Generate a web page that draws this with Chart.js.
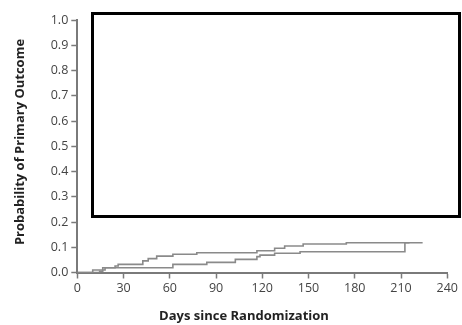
<!DOCTYPE html>
<html>
<head>
<meta charset="utf-8">
<script src="https://cdn.jsdelivr.net/npm/chart.js@4/dist/chart.umd.min.js"></script>
<style>
  html, body { margin: 0; padding: 0; background: #fff; }
  #wrap { width: 462px; height: 325px; }
</style>
</head>
<body>
<div id="wrap"><canvas id="kmChart" width="462" height="325"></canvas></div>
<script>
// ===================
// Dados
// ===================
const xTicks = [0, 30, 60, 90, 120, 150, 180, 210, 240];
const yTicks = [0.0, 0.1, 0.2, 0.3, 0.4, 0.5, 0.6, 0.7, 0.8, 0.9, 1.0];

const upperDays = [0, 9.5, 10, 18, 24.5, 26.5, 42.5, 46, 51.5, 62, 77.5, 116.5, 128, 134.5, 146.5, 174.5, 224];
const upperProb = [0, 0, 0.010, 0.019, 0.026, 0.032, 0.046, 0.055, 0.065, 0.072, 0.078, 0.086, 0.096, 0.105, 0.113, 0.118, 0.118];

const lowerDays = [0, 9.5, 14.5, 16.5, 62, 84, 102.5, 116.5, 118.5, 128, 144.5, 212.5, 215.5];
const lowerProb = [0, 0, 0.005, 0.019, 0.032, 0.040, 0.052, 0.063, 0.069, 0.076, 0.082, 0.118, 0.118];

const xTitle = "Days since Randomization";
const yTitle = "Probability of Primary Outcome";

const toPoints = (xs, ys) => xs.map((x, i) => ({ x: x, y: ys[i] }));

// ===================
// Plugin: títulos e caixa
// ===================
const extrasPlugin = {
  id: "extras",
  afterDraw(chart) {
    const ctx = chart.ctx;
    ctx.save();
    // caixa preta (inserto)
    ctx.strokeStyle = "#000";
    ctx.lineWidth = 3;
    ctx.strokeRect(92.5, 13.5, 367, 203);
    // títulos dos eixos
    ctx.fillStyle = "#222";
    ctx.font = "bold 13px 'Open Sans'";
    ctx.textAlign = "center";
    ctx.textBaseline = "middle";
    ctx.fillText(xTitle, 244, 316);
    ctx.translate(20, 142);
    ctx.rotate(-Math.PI / 2);
    ctx.font = "bold 13px 'Open Sans'";
    ctx.fillText(yTitle, 0, 0);
    ctx.restore();
  },
};

const kmChart = new Chart(document.getElementById("kmChart"), {
  type: "line",
  data: {
    datasets: [
      {
        label: "Grupo A",
        data: toPoints(upperDays, upperProb),
        borderColor: "#8a8a8a",
        borderWidth: 1.6,
        stepped: "before",
        pointRadius: 0,
        fill: false,
      },
      {
        label: "Grupo B",
        data: toPoints(lowerDays, lowerProb),
        borderColor: "#8a8a8a",
        borderWidth: 1.6,
        stepped: "before",
        pointRadius: 0,
        fill: false,
      },
    ],
  },
  options: {
    responsive: false,
    animation: false,
    layout: { padding: { top: 20, right: 14.7, left: 0, bottom: 0 } },
    plugins: { legend: { display: false }, tooltip: { enabled: false } },
    scales: {
      x: {
        type: "linear",
        min: 0,
        max: 240,
        afterBuildTicks: (s) => { s.ticks = xTicks.map((v) => ({ value: v })); },
        afterFit: (s) => { s.height = 52.5; },
        border: { color: "#7a7a7a", width: 2 },
        grid: { drawOnChartArea: false, drawTicks: true, tickLength: 6, tickColor: "#7a7a7a", tickWidth: 1.5 },
        ticks: { color: "#444", padding: 2, font: { family: "Open Sans", size: 12.5 }, maxRotation: 0 },
      },
      y: {
        type: "linear",
        min: 0,
        max: 1,
        afterBuildTicks: (s) => { s.ticks = yTicks.map((v) => ({ value: v })); },
        afterFit: (s) => { s.width = 77.3; },
        border: { color: "#7a7a7a", width: 2 },
        grid: { drawOnChartArea: false, drawTicks: true, tickLength: 6, tickColor: "#7a7a7a", tickWidth: 1.5 },
        ticks: {
          color: "#444",
          padding: 3,
          font: { family: "Open Sans", size: 12.5 },
          callback: (v) => Number(v).toFixed(1),
        },
      },
    },
  },
  plugins: [extrasPlugin],
});
</script>
</body>
</html>
